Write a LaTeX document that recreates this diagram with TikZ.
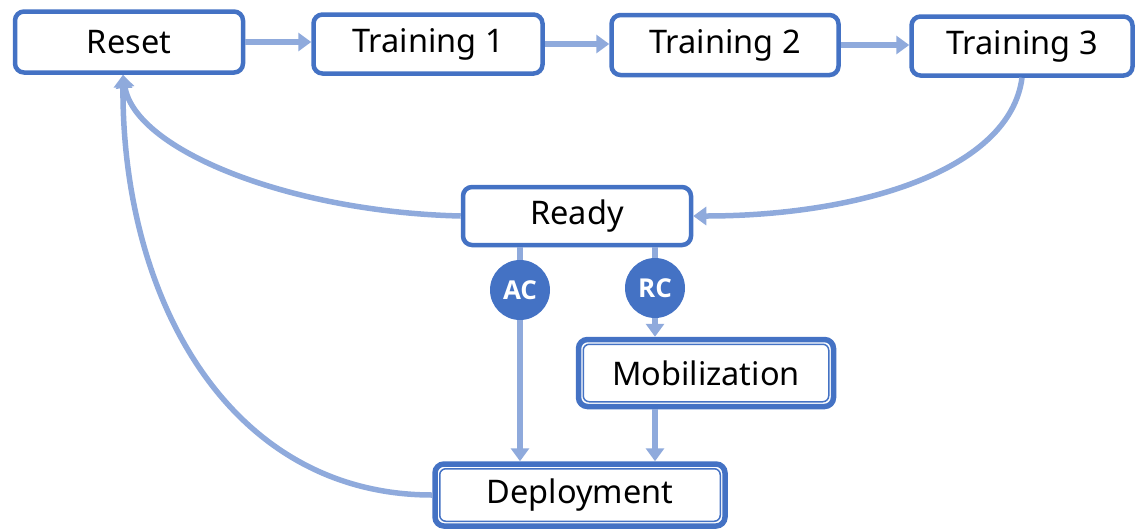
\documentclass[tikz,border=0pt]{standalone}
\usepackage{fontspec}
\setmainfont{Noto Sans}
\newfontfamily\badgefont{Open Sans}
\usetikzlibrary{arrows.meta,shadows,calc}
\definecolor{bord}{HTML}{4472C4}
\definecolor{connc}{HTML}{8FAADC}
\tikzset{
 box/.style={draw=bord, line width=4.5pt, rounded corners=9pt, fill=white,
   font=\fontsize{32.5}{38}\selectfont,
   drop shadow={opacity=0.2,shadow xshift=1.5pt,shadow yshift=-2pt}},
 conn/.style={draw=connc, line width=5.5pt, -{Triangle[length=13pt,width=18pt]}},
 link/.style={draw=connc, line width=5.5pt},
 badge/.style={circle, fill=bord, text=white, font=\badgefont\bfseries\fontsize{26}{30}\selectfont,
   minimum size=60pt, inner sep=0pt},
 innerline/.style={draw=bord, line width=1.5pt, rounded corners=6pt}
}
\begin{document}
\begin{tikzpicture}[x=1pt,y=-1pt]
\useasboundingbox (0,0) rectangle (1135,531);
\node[box, minimum width=228pt, minimum height=61pt] (reset) at (129,42) {Reset};
\node[box, minimum width=229pt, minimum height=59pt] (t1) at (428,44) {Training 1};
\node[box, minimum width=227pt, minimum height=60pt] (t2) at (725,45) {Training 2};
\node[box, minimum width=221pt, minimum height=59pt] (t3) at (1022,46) {Training 3};
\node[box, minimum width=228pt, minimum height=58pt] (ready) at (577,216) {Ready};
\node[box, line width=5.5pt, minimum width=255pt, minimum height=67pt] (mob) at (706,373) {Mobilization};
\node[box, line width=5.5pt, minimum width=290pt, minimum height=62pt] (dep) at (580,495) {Deployment};
\draw[innerline] ($(mob.north west)+(7.5pt,-7.5pt)$) rectangle ($(mob.south east)+(-7.5pt,7.5pt)$);
\draw[innerline] ($(dep.north west)+(7.5pt,-7.5pt)$) rectangle ($(dep.south east)+(-7.5pt,7.5pt)$);
\node[badge] (ac) at (520,290) {AC};
\node[badge] (rc) at (655,288) {RC};
\draw[conn] (reset.east) -- (reset.east -| t1.west);
\draw[conn] (t1.east) -- (t1.east -| t2.west);
\draw[conn] (t2.east) -- (t2.east -| t3.west);
\coordinate (rin) at ($(reset.south)+(-6pt,0)$);
\draw[conn] (t3.south) .. controls (1010,170) and (860,216) .. (ready.east);
\draw[conn] (ready.west) .. controls (290,212) and (135,150) .. (rin);
\draw[conn] (dep.west) .. controls (230,495) and (122,300) .. (rin);
\draw[link] (ac.north) -- (ac.north |- ready.south);
\draw[conn] (ac.south) -- (ac.south |- dep.north);
\draw[link] (rc.north) -- (rc.north |- ready.south);
\draw[conn] (rc.south) -- (rc.south |- mob.north);
\draw[conn] (rc |- mob.south) -- (rc |- dep.north);
\end{tikzpicture}
\end{document}
